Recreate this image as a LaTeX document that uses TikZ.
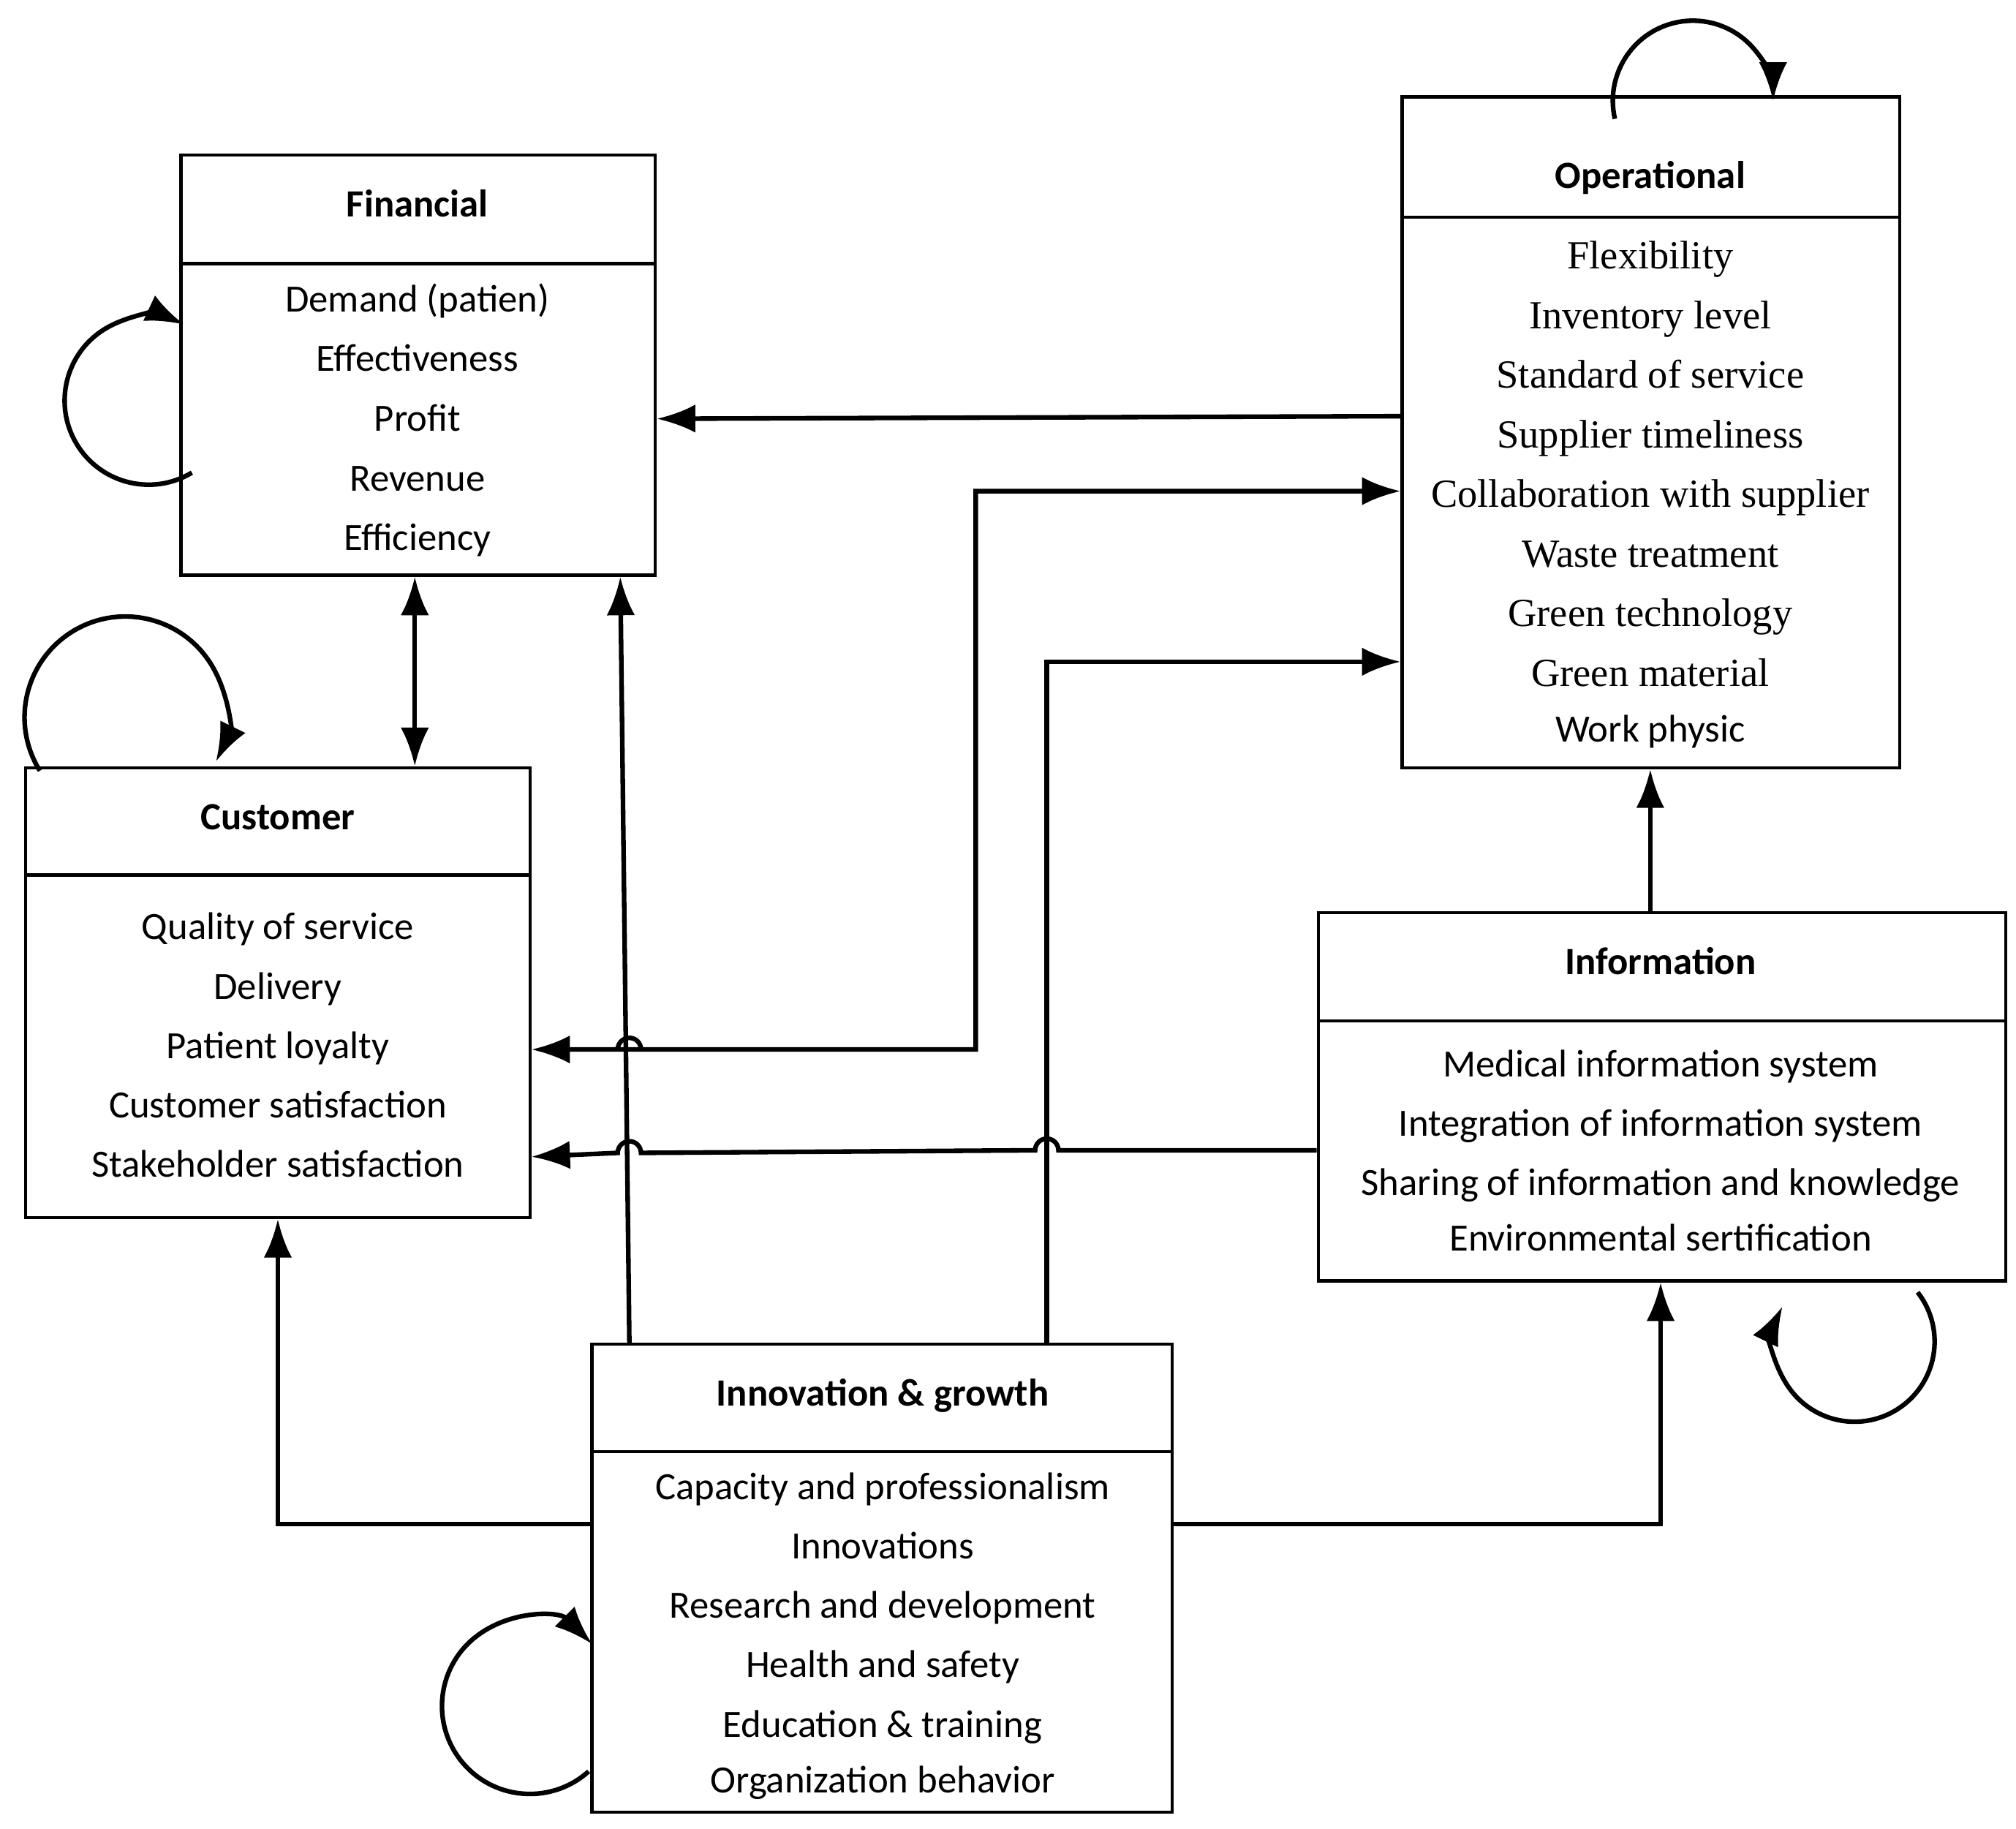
\documentclass[tikz,border=0pt]{standalone}
\usepackage{fontspec}
\setmainfont{Carlito}
\newfontfamily\serifit{Liberation Serif}
\usetikzlibrary{arrows.meta,fit}
\begin{document}
\begin{tikzpicture}[x=0.01767cm,y=-0.01767cm,
  box/.style={draw,line width=1.2pt,inner sep=0pt},
  ln/.style={line width=1.8pt},
  ar/.style={ln,-{Latex[length=15pt,width=11pt]}},
  ba/.style={ln,{Latex[length=15pt,width=11pt]}-{Latex[length=15pt,width=11pt]}},
  hd/.style={font=\fontsize{15}{18}\selectfont\bfseries,text height=11pt,text depth=3pt},
  it/.style={font=\fontsize{15}{18}\selectfont,text height=11pt,text depth=3pt},
  st/.style={font=\serifit\fontsize{15.5}{19}\selectfont,text height=11pt,text depth=3pt}]
\useasboundingbox (0,0) rectangle (1560,1415);
% boxes
\node[box,fit={(140,120)(507,445)}] (fin) {};
\node[box,fit={(1085,75)(1470,594)}] (op) {};
\node[box,fit={(20,594)(410,942)}] (cus) {};
\node[box,fit={(1020,706)(1552,991)}] (inf) {};
\node[box,fit={(458,1040)(907,1402)}] (inn) {};
\draw[line width=1.2pt] (140,204) -- (507,204) (1085,168) -- (1470,168) (20,677) -- (410,677) (1020,790) -- (1552,790) (458,1123) -- (907,1123);
% titles
\node[hd] (t1) at (323,160) {Financial};
\node[hd] (t2) at (1277,138) {Operational};
\node[hd] (t3) at (215,634) {Customer};
\node[hd] (t4) at (1285,746) {Information};
\node[hd] (t5) at (683,1080) {Innovation \& growth};
% items
\foreach \t [count=\i] in {Demand (patien),Effectiveness,Profit,Revenue,Efficiency}
  \node[it] (f\i) at (323,187+46.2*\i) {\t};
\foreach \t [count=\i] in {Flexibility,Inventory level,Standard of service,Supplier timeliness,Collaboration with supplier,Waste treatment,Green technology,Green material}
  \node[st] (o\i) at (1277,154+46.1*\i) {\t};
\node[it] (o9) at (1277,566) {Work physic};
\foreach \t [count=\i] in {Quality of service,Delivery,Patient loyalty,Customer satisfaction,Stakeholder satisfaction}
  \node[it] (c\i) at (215,673+46*\i) {\t};
\foreach \t [count=\i] in {Medical information system,Integration of information system,Sharing of information and knowledge}
  \node[it] (n\i) at (1285,779+46*\i) {\t};
\node[it] (n4) at (1285,960) {Environmental sertification};
\foreach \t [count=\i] in {Capacity and professionalism,Innovations,Research and  development,Health and safety,Education \& training}
  \node[it] (g\i) at (683,1106+46*\i) {\t};
\node[it] (g6) at (683,1379) {Organization behavior};
% connectors
\draw[ar] (op.west |- 0,322) -- (fin.east |- 0,324);
\draw[ba] (cus.east |- 0,812) -- (496,812) arc[start angle=0,end angle=-180,radius=9] -- (755,812) -- (755,380) -- (op.west |- 0,380);
\draw[ar] (inf.west |- 0,890) -- (819,890) arc[start angle=0,end angle=-180,radius=9] -- (496,892) arc[start angle=0,end angle=-180,radius=9] -- (cus.east |- 0,895);
\draw[ar] (inn.north -| 487,0) -- (fin.south -| 480,0);
\draw[ar] (inn.north -| 810,0) -- (810,512) -- (op.west |- 0,512);
\draw[ba] (fin.south -| 321,0) -- (cus.north -| 321,0);
\draw[ar] (inf.north -| 1277,0) -- (op.south -| 1277,0);
\draw[ar] (inn.west |- 0,1179) -- (215,1179) -- (cus.south -| 215,0);
\draw[ar] (inn.east |- 0,1179) -- (1285,1179) -- (inf.south -| 1285,0);
% self loops
\draw[ar] ([shift={(59:65)}]115,310) arc[start angle=59,end angle=295,radius=65];
\draw[ar] ([shift={(148:78)}]97,555) arc[start angle=148,end angle=386,radius=78];
\draw[ar] ([shift={(167:62)}]1310,78) arc[start angle=167,end angle=360,radius=62];
\draw[ar] ([shift={(-38:62)}]1435,1038) arc[start angle=-38,end angle=206,radius=62];
\draw[ar] ([shift={(48:68)}]410,1320) arc[start angle=48,end angle=315,radius=68];
\end{tikzpicture}
\end{document}
